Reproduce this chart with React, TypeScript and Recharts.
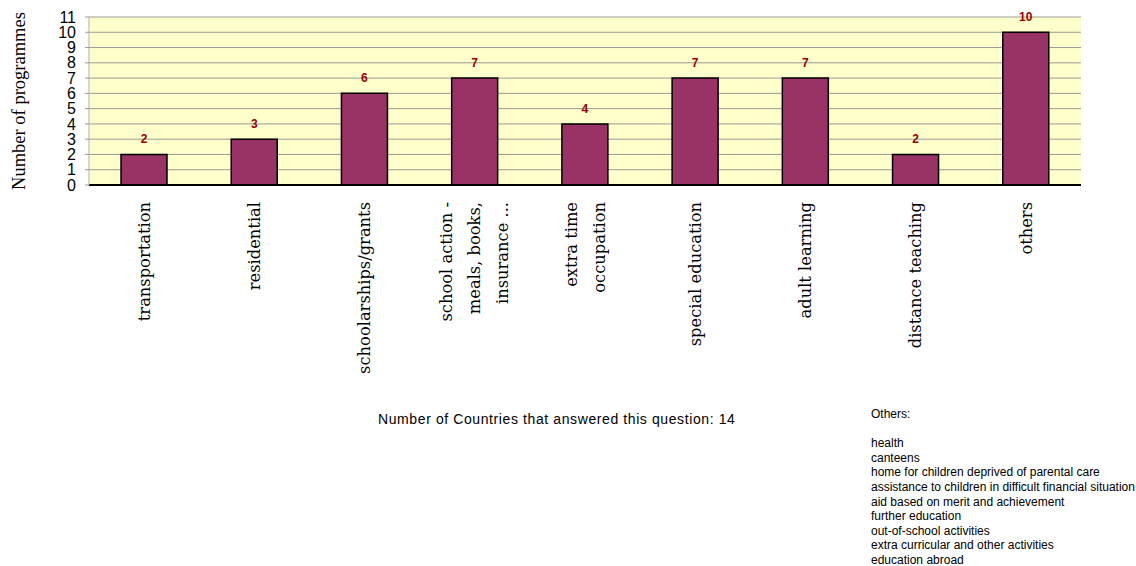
import { Bar, BarChart, CartesianGrid, LabelList, XAxis, YAxis } from "recharts";

const categories: string[] = [
	"transportation",
	"residential",
	"schoolarships/grants",
	"school action -\nmeals, books,\ninsurance ...",
	"extra time\noccupation",
	"special education",
	"adult learning",
	"distance teaching",
	"others",
];

const programmes: number[] = [2, 3, 6, 7, 4, 7, 7, 2, 10];

const yTicks: number[] = [0, 1, 2, 3, 4, 5, 6, 7, 8, 9, 10, 11];

const othersList: string[] = [
	"health",
	"canteens",
	"home for children deprived of parental care",
	"assistance to children in difficult financial situation",
	"aid based on merit and achievement",
	"further education",
	"out-of-school activities",
	"extra curricular and other activities",
	"education abroad",
];

const chartData = categories.map((name, i) => ({
	name,
	value: programmes[i],
}));

// rotated category label, several lines side by side
const CategoryTick = (props: any) => {
	const { x, y, payload } = props;
	const lines: string[] = String(payload.value).split("\n");
	const gap = 28;
	return (
		<g transform={`translate(${x},${y}) rotate(-90)`}>
			{lines.map((line, i) => (
				<text
					key={line}
					x={0}
					y={(i - (lines.length - 1) / 2) * gap}
					dy="0.35em"
					textAnchor="end"
					fontFamily="'DejaVu Serif', serif"
					fontSize={16.3}
					fill="#000"
				>
					{line}
				</text>
			))}
		</g>
	);
};

export default function App() {
	return (
		<div
			style={{
				position: "absolute",
				left: 0,
				top: 0,
				width: 1136,
				height: 566,
				background: "#fff",
			}}
		>
			<BarChart
				width={1136}
				height={566}
				data={chartData}
				margin={{ top: 17, right: 55, bottom: 181, left: 0 }}
				barCategoryGap={0}
			>
				<CartesianGrid
					horizontal
					vertical={false}
					fill="#FFFFCC"
					fillOpacity={1}
					stroke="#9a9a9a"
					strokeWidth={1}
				/>
				<XAxis
					dataKey="name"
					interval={0}
					height={200}
					tickSize={0}
					tickMargin={17}
					tickLine={false}
					axisLine={{ stroke: "#000", strokeWidth: 2 }}
					tick={<CategoryTick />}
				/>
				<YAxis
					width={89}
					domain={[0, 11]}
					ticks={yTicks}
					interval={0}
					tickSize={4}
					tickMargin={9}
					axisLine={{ stroke: "#b0b0b0" }}
					tickLine={{ stroke: "#9a9a9a" }}
					tick={{
						fontFamily: "'Liberation Sans', Arial, sans-serif",
						fontSize: 16,
						fill: "#000",
					}}
					label={{
						value: "Number of programmes",
						angle: -90,
						position: "insideLeft",
						offset: 18,
						style: {
							fontFamily: "'Liberation Serif', 'Times New Roman', serif",
							fontSize: 18.5,
							fill: "#000",
							textAnchor: "middle",
						},
					}}
				/>
				<Bar
					dataKey="value"
					fill="#993366"
					stroke="#000"
					strokeWidth={1.5}
					barSize={46}
					isAnimationActive={false}
				>
					<LabelList
						dataKey="value"
						position="top"
						offset={11}
						style={{
							fontFamily: "'Liberation Sans', Arial, sans-serif",
							fontSize: 12,
							fontWeight: "bold",
							fill: "#990000",
						}}
					/>
				</Bar>
			</BarChart>
			<div
				style={{
					position: "absolute",
					left: 378,
					top: 411,
					fontFamily: "'Liberation Sans', Arial, sans-serif",
					fontSize: 14,
					letterSpacing: 0.6,
					color: "#000",
					whiteSpace: "nowrap",
				}}
			>
				Number of Countries that answered this question: 14
			</div>
			<div
				style={{
					position: "absolute",
					left: 871,
					top: 407,
					fontFamily: "'Liberation Sans', Arial, sans-serif",
					fontSize: 12,
					lineHeight: "14.6px",
					color: "#000",
					whiteSpace: "nowrap",
				}}
			>
				<div>Others:</div>
				<div>&nbsp;</div>
				{othersList.map((item) => (
					<div key={item}>{item}</div>
				))}
			</div>
		</div>
	);
}
